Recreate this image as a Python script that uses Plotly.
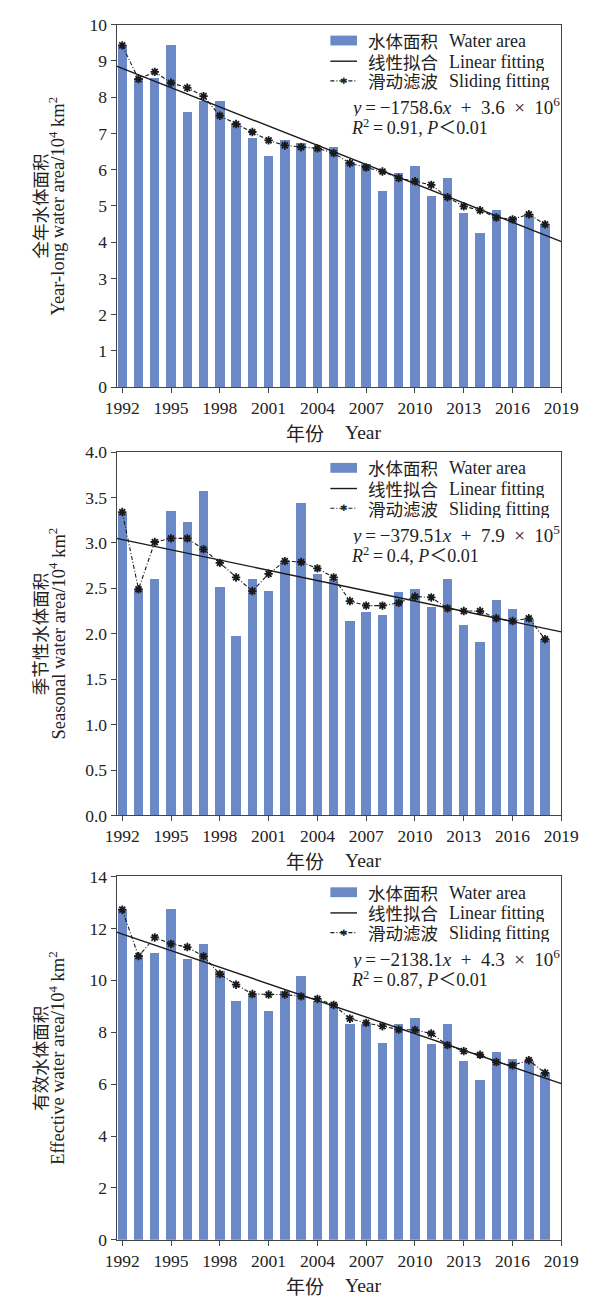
import numpy as np
import plotly.graph_objects as go

# ---------------- data ----------------
years = list(range(1992, 2019))

yearlong_area = [9.43, 8.53, 8.52, 9.44, 7.60, 7.89, 7.89, 7.30, 6.87, 6.37, 6.81, 6.75, 6.59, 6.62,
                 6.22, 6.15, 5.40, 5.91, 6.11, 5.28, 5.76, 4.80, 4.26, 4.90, 4.70, 4.77, 4.49]
yearlong_slide = [9.43, 8.50, 8.70, 8.40, 8.26, 8.03, 7.49, 7.26, 7.04, 6.81, 6.67, 6.62, 6.59, 6.46,
                  6.18, 6.06, 5.95, 5.77, 5.68, 5.58, 5.24, 4.99, 4.88, 4.68, 4.63, 4.77, 4.49]

seasonal_area = [3.33, 2.48, 2.60, 3.35, 3.23, 3.57, 2.51, 1.97, 2.60, 2.47, 2.80, 3.44, 2.66, 2.60,
                 2.14, 2.24, 2.21, 2.46, 2.49, 2.30, 2.60, 2.10, 1.91, 2.37, 2.27, 2.16, 1.94]
seasonal_slide = [3.34, 2.49, 3.01, 3.05, 3.05, 2.93, 2.78, 2.62, 2.47, 2.66, 2.80, 2.79, 2.72, 2.62,
                  2.36, 2.31, 2.31, 2.34, 2.41, 2.40, 2.28, 2.25, 2.25, 2.17, 2.14, 2.17, 1.94]

effective_area = [12.72, 10.96, 11.06, 12.73, 10.81, 11.41, 10.37, 9.22, 9.42, 8.82, 9.58, 10.17, 9.19, 9.14,
                  8.33, 8.31, 7.59, 8.33, 8.56, 7.56, 8.33, 6.90, 6.15, 7.25, 6.96, 6.90, 6.43]
effective_slide = [12.72, 10.93, 11.65, 11.40, 11.28, 10.92, 10.24, 9.83, 9.47, 9.45, 9.45, 9.38, 9.28, 9.05,
                   8.52, 8.36, 8.23, 8.10, 8.09, 7.95, 7.50, 7.27, 7.13, 6.85, 6.72, 6.92, 6.43]

S = "\u2002"  # en space
T = "\u2009"  # thin space
equations = [
    (f"<i>y</i>{T}={T}\u22121758.6<i>x</i>{S}+{S}3.6{S}×{S}10<sup>6</sup>",
     f"<i>R</i><sup>2</sup>{T}={T}0.91, <i>P</i>\uff1c0.01"),
    (f"<i>y</i>{T}={T}\u2212379.51<i>x</i>{S}+{S}7.9{S}×{S}10<sup>5</sup>",
     f"<i>R</i><sup>2</sup>{T}={T}0.4, <i>P</i>\uff1c0.01"),
    (f"<i>y</i>{T}={T}\u22122138.1<i>x</i>{S}+{S}4.3{S}×{S}10<sup>6</sup>",
     f"<i>R</i><sup>2</sup>{T}={T}0.87, <i>P</i>\uff1c0.01"),
]
ytitles_cn = ["全年水体面积", "季节性水体面积", "有效水体面积"]
ytitles_en = ["Year-long water area/10<sup>4</sup> km<sup>2</sup>",
              "Seasonal water area/10<sup>4</sup> km<sup>2</sup>",
              "Effective water area/10<sup>4</sup> km<sup>2</sup>"]
yranges = [(0, 10), (0, 4), (0, 14)]
ydticks = [1, 0.5, 2]
ytickfmt = ["d", ".1f", "d"]
xtick_vals = list(range(1992, 2020, 3))
legend_cn = ["水体面积", "线性拟合", "滑动滤波"]
legend_en = ["Water area", "Linear fitting", "Sliding fitting"]
xtitle_cn, xtitle_en = "年份", "Year"

# ---------------- layout helpers ----------------
W, H = 605, 1302
FONT = "Liberation Serif, Times New Roman, Noto Sans CJK SC, serif"
CJK = "Noto Sans CJK SC, sans-serif"
TXT = "#222222"
BAR_COLOR = "#6A89C6"
AX_COLOR = "#444444"
XMIN, XMAX = 1991.65, 2019


def fx(p):
    return p / W


def fy(p):
    return 1 - p / H


panels = [(15, 383), (449, 818), (880, 1249)]
plot_left, plot_right = 110, 578

series = [(yearlong_area, yearlong_slide), (seasonal_area, seasonal_slide), (effective_area, effective_slide)]

fig = go.Figure()
annotations = []
shapes = []
layout_axes = {}


def ann(x, y, text, size, family=FONT, xanchor="left", angle=0, height=None):
    d = dict(x=fx(x), y=fy(y), xref="paper", yref="paper", xanchor=xanchor,
             yanchor="middle", showarrow=False, text=text, textangle=angle,
             font=dict(family=family, size=size, color=TXT))
    if height is not None:
        d["height"] = height
    annotations.append(d)


for i, ((area, slide), (top, bot)) in enumerate(zip(series, panels)):
    k = "" if i == 0 else str(i + 1)
    xa, ya = "x" + k, "y" + k

    fig.add_trace(go.Bar(x=years, y=area, xaxis=xa, yaxis=ya, width=0.58,
                         marker=dict(color=BAR_COLOR, line=dict(width=0)),
                         showlegend=False, name=legend_en[0]))
    coef = np.polyfit(years, area, 1)
    fit_x = np.array([XMIN, XMAX])
    fig.add_trace(go.Scatter(x=fit_x, y=np.polyval(coef, fit_x), xaxis=xa, yaxis=ya,
                             mode="lines", line=dict(color="#1a1a1a", width=1.4),
                             showlegend=False, name=legend_en[1]))
    fig.add_trace(go.Scatter(x=years, y=slide, xaxis=xa, yaxis=ya, mode="lines+markers",
                             line=dict(color="#1a1a1a", width=1.1, dash="4px,2px,1px,2px"),
                             marker=dict(symbol="asterisk-open", size=7,
                                         line=dict(color="#111111", width=1.8)),
                             showlegend=False, name=legend_en[2]))

    xkey = "xaxis" + k
    ykey = "yaxis" + k
    layout_axes[xkey] = dict(domain=[fx(plot_left), fx(plot_right)], anchor=ya,
                             range=[XMIN, XMAX], tickvals=xtick_vals, ticks="outside",
                             ticklen=5, tickcolor=AX_COLOR, showline=True, linecolor=AX_COLOR,
                             linewidth=1, mirror=True, showgrid=False, zeroline=False,
                             tickfont=dict(family=FONT, size=17.5, color=TXT))
    layout_axes[ykey] = dict(domain=[fy(bot), fy(top)], anchor=xa, range=list(yranges[i]),
                             dtick=ydticks[i], tick0=0, tickformat=ytickfmt[i], ticks="outside",
                             ticklen=5, tickcolor=AX_COLOR, showline=True, linecolor=AX_COLOR,
                             linewidth=1, mirror=True, showgrid=False, zeroline=False,
                             tickfont=dict(family=FONT, size=17.5, color=TXT))

    # ---- legend (drawn by hand so the rows sit as tightly as in the reference) ----
    rows = [top + 16, top + 37, top + 57]
    ix0, ix1 = 335, 363
    shapes.append(dict(type="rect", xref="paper", yref="paper",
                       x0=fx(ix0), x1=fx(ix1), y0=fy(rows[0] - 5), y1=fy(rows[0] + 5),
                       fillcolor=BAR_COLOR, line=dict(width=0)))
    shapes.append(dict(type="line", xref="paper", yref="paper",
                       x0=fx(ix0), x1=fx(ix1), y0=fy(rows[1]), y1=fy(rows[1]),
                       line=dict(color="#1a1a1a", width=1.4)))
    shapes.append(dict(type="line", xref="paper", yref="paper",
                       x0=fx(ix0), x1=fx(ix1), y0=fy(rows[2]), y1=fy(rows[2]),
                       line=dict(color="#1a1a1a", width=1.1, dash="4px,2px,1px,2px")))
    ann((ix0 + ix1) / 2, rows[2], "\u2731", 9, family="DejaVu Sans", xanchor="center")
    for r, cn, en in zip(rows, legend_cn, legend_en):
        ann(372, r, cn, 17.5, family=CJK, height=19)
        ann(458, r, en, 18, height=19)

    # ---- equation ----
    ann(355, top + 83, equations[i][0], 19, height=20)
    ann(355, top + 104, equations[i][1], 18, height=20)
    # ---- x title ----
    ann(330, bot + 46, xtitle_cn, 19, family=CJK, xanchor="right")
    ann(348, bot + 46, xtitle_en, 19.5, xanchor="left")
    # ---- y titles ----
    ann(29, (top + bot) / 2, ytitles_cn[i], 17.5, family=CJK, xanchor="center", angle=-90)
    ann(47, (top + bot) / 2, ytitles_en[i], 18.5, xanchor="center", angle=-90)

fig.update_layout(width=W, height=H, margin=dict(l=0, r=0, t=0, b=0),
                  paper_bgcolor="white", plot_bgcolor="white", bargap=0, showlegend=False,
                  hovermode=False, annotations=annotations, shapes=shapes, **layout_axes)

fig.write_html("out.html", config={"displayModeBar": False, "staticPlot": True},
               post_script="document.body.style.margin='0';document.body.style.overflow='hidden';")
